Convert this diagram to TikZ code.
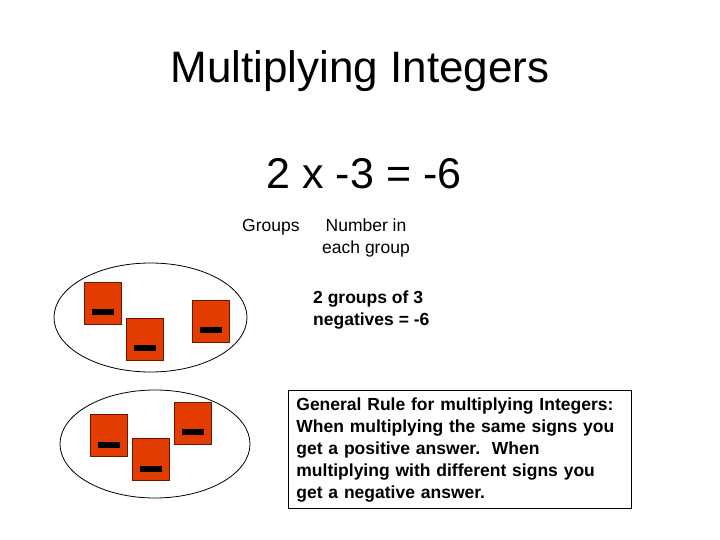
\documentclass[tikz,border=0pt]{standalone}
\usepackage{fontspec}
\setmainfont{Liberation Sans}
\frenchspacing
\definecolor{negred}{RGB}{226,60,0}
\definecolor{negedge}{RGB}{110,20,0}
\tikzset{
  negbox/.style={draw=negedge, fill=negred, line width=0.8pt, minimum width=37pt, minimum height=42pt, inner sep=0pt},
  negbar/.style={fill=black, minimum width=22pt, minimum height=6pt, inner sep=0pt},
  txt/.style={font=\fontsize{17.5}{22}\selectfont, inner sep=0pt},
  txtb/.style={font=\fontsize{17.5}{22}\selectfont\bfseries, inner sep=0pt}
}
\begin{document}
\begin{tikzpicture}[x=1pt,y=-1pt]
  \useasboundingbox (0,0) rectangle (720,540);
  \node[anchor=base, inner sep=0pt, font=\fontsize{44}{52}\selectfont] (title) at (360,83) {Multiplying Integers};
  \node[anchor=base, inner sep=0pt, font=\fontsize{43}{52}\selectfont] (eqn) at (364,189) {2 x -3 = -6};
  \node[txt, anchor=base west] (groups) at (242,232) {Groups};
  \node[txt, anchor=base, align=center] (number) at (366,254) {Number in\\each group};
  \node[txtb, anchor=base west, align=left] (groupsof) at (313,325) {2 groups of 3\\negatives = -6};
  % the two groups
  \draw[line width=0.8pt] (150.5,317.5) ellipse [x radius=96.5, y radius=54.5];
  \draw[line width=0.8pt] (155,444) ellipse [x radius=95, y radius=54];
  \foreach \n/\x/\y in {a/102.5/303, b/144.5/339, c/210.5/321, d/108.5/435.5, e/150.5/459.5, f/192.5/423} {
    \node[negbox] (sq\n) at (\x,\y) {};
    \node[negbar] (bar\n) at ([yshift=-9pt]sq\n.center) {};
  }
  % rule box
  \node[draw, line width=0.8pt, anchor=north west, text width=327pt, inner xsep=8pt, inner ysep=7pt,
        align=left, font=\fontsize{17.5}{22}\selectfont\bfseries] (rule) at (288,390)
    {General Rule for multiplying Integers:\\When multiplying the same signs you\\get a positive answer.~ When\\multiplying with different signs you\\get a negative answer.};
\end{tikzpicture}
\end{document}
